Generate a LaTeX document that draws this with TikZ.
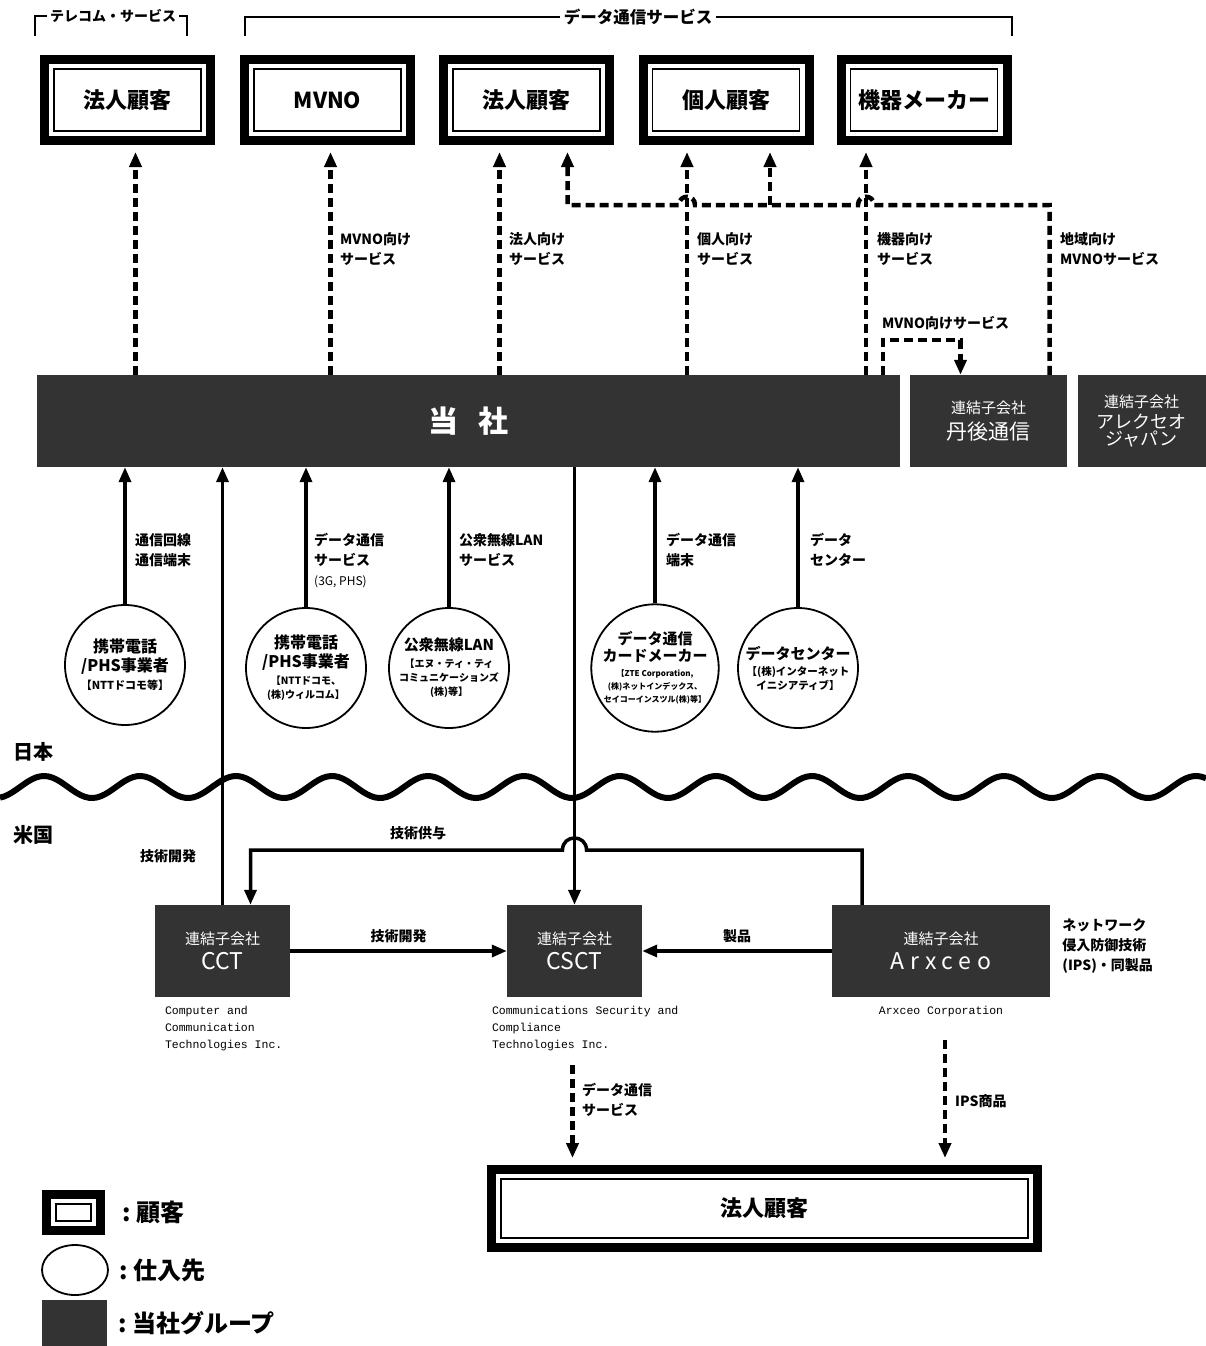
\documentclass[tikz,border=0pt]{standalone}
\usepackage{fontspec}
\setmainfont{Noto Sans CJK JP}
\setmonofont{Liberation Mono}
\usetikzlibrary{arrows.meta,calc,positioning,shapes.geometric}
\newcommand\fsz[2]{\fontsize{#1}{#2}\selectfont}

\begin{document}
\begin{tikzpicture}[x=1pt,y=-1pt,>={Triangle[length=15pt,width=12pt]},
  cust/.style={draw,line width=9pt,inner sep=0,minimum width=166,minimum height=81,
    font=\fsz{22}{26}\bfseries,
    path picture={\draw[line width=1.6pt]
      ([shift={(9.5pt,-9.5pt)}]path picture bounding box.north west) rectangle
      ([shift={(-9.5pt,9.5pt)}]path picture bounding box.south east);}},
  grp/.style={fill=black!80,text=white,inner sep=0,align=center},
  sup/.style={circle,draw,line width=1.8pt,minimum size=120,inner sep=0,align=center,
    font=\fsz{16}{19}\bfseries},
  flow/.style={->,line width=3.5pt},
  dflow/.style={->,line width=4.5pt,dash pattern=on 9pt off 5pt},
  lbl/.style={anchor=north west,inner sep=0,align=left,font=\fsz{14}{20}\bfseries},
  midlbl/.style={above=6pt,inner sep=0,font=\fsz{14}{16}\bfseries},
  mono/.style={anchor=north west,inner sep=0,align=left,font=\ttfamily\fsz{11.5}{17}}]
\useasboundingbox (0,0) rectangle (1206,1346);
% ---------- customers (top) ----------
\node[font=\fsz{14}{16}\bfseries,inner sep=3pt] (tel) at (113,16) {テレコム・サービス};
\draw[line width=2pt] (35,36) |- (tel.west) (tel.east) -| (187,36);
\node[font=\fsz{16.5}{18}\bfseries,inner sep=4pt] (dat) at (638,17) {データ通信サービス};
\draw[line width=2pt] (245,36) |- (dat.west) (dat.east) -| (1012,36);
\node[cust] (k1) at (127.5,100) {法人顧客};
\node[cust] (k2) at (327.5,100) {MVNO};
\node[cust] (k3) at (526.5,100) {法人顧客};
\node[cust] (k4) at (726,100) {個人顧客};
\node[cust] (k5) at (924,100) {機器メーカー};
% ---------- our group ----------
\node[grp,minimum width=863,minimum height=92,font=\fsz{30}{34}\bfseries] (tosha) at (468.5,421) {当\hspace{0.7em}社};
\node[grp,minimum width=157,minimum height=92] (tango) at (988.5,421)
  {\fsz{15}{18}連結子会社\\[6pt]\fsz{21}{24}丹後通信};
\node[grp,minimum width=128,minimum height=92] (alex) at (1141.5,421)
  {\fsz{15}{18}連結子会社\\[4pt]\fsz{18}{20}アレクセオ\\\fsz{18}{20}ジャパン};
% ---------- services to customers ----------
\foreach \b/\dx/\a in {k1/8/a1,k2/3/a2,k3/-27/a3,k4/-39/a4,k5/-58/a5}
  \path (\b.south) ++(\dx,7) coordinate (\a);
\foreach \a in {a1,a2,a3,a4,a5}
  \draw[dflow] (\a |- tosha.north) -- (\a);
\path (k3.south) ++(41,7) coordinate (b3);
\path (k4.south) ++(44,7) coordinate (b4);
\path (tango.north) ++(61,0) coordinate (tg);
\coordinate (hz) at (0,205);
\draw[dflow] (tg) -- (tg |- hz) -- ($(a5 |- hz)+(8,0)$) .. controls +(0,-11) and +(0,-11) .. ($(a5 |- hz)+(-8,0)$)
  -- ($(a4 |- hz)+(8,0)$) .. controls +(0,-11) and +(0,-11) .. ($(a4 |- hz)+(-8,0)$) -- (b3 |- hz) -- (b3);
\draw[dflow] (b4 |- hz) -- (b4);
\path (tosha.north east) ++(-17,0) coordinate (m1);
\path (tango.north) ++(-28,0) coordinate (m2);
\draw[dflow] (m1) -- ++(0,-35) -| (m2);
\node[lbl] (l2) at (340,232) {MVNO向け\\サービス};
\node[lbl] (l3) at (509,232) {法人向け\\サービス};
\node[lbl] (l4) at (697,232) {個人向け\\サービス};
\node[lbl] (l5) at (877,232) {機器向け\\サービス};
\node[lbl] (l6) at (1060,232) {地域向け\\MVNOサービス};
\node[lbl] (l7) at (882,316) {MVNO向けサービス};
% ---------- suppliers ----------
\node[sup] (s1) at (125,665)
  {携帯電話\\/PHS事業者\\[-1pt]\fsz{11}{14}【NTTドコモ等】};
\node[sup] (s2) at (306,668)
  {携帯電話\\/PHS事業者\\[-2pt]\fsz{10}{13}【NTTドコモ、\\[-5pt]\fsz{10}{13}(株)ウィルコム】};
\node[sup] (s3) at (449,668)
  {\fsz{15}{19}公衆無線LAN\\[-2pt]\fsz{10}{13}【エヌ・ティ・ティ\\[-5pt]\fsz{10}{13}コミュニケーションズ\\[-5pt]\fsz{10}{13}(株)等】};
\node[sup] (s4) at (655,668)
  {\fsz{15}{17}データ通信\\[-2pt]\fsz{15}{17}カードメーカー\\[-4pt]\fsz{8}{11}【ZTE Corporation,\\[-6pt]\fsz{8}{11}(株)ネットインデックス、\\[-6pt]\fsz{8}{11}セイコーインスツル(株)等】};
\node[sup] (s5) at (798,668)
  {\fsz{15}{19}データセンター\\[-3pt]\fsz{10.5}{13}【(株)インターネット\\[-5pt]\fsz{10.5}{13}イニシアティブ】};
\foreach \s in {s1,s2,s3,s4,s5}
  \draw[flow] (\s.north) -- (\s.north |- tosha.south);
\node[lbl] (u1) at (135,533) {通信回線\\通信端末};
\node[lbl] (u2) at (314,533) {データ通信\\サービス\\\fsz{12}{18}\mdseries(3G, PHS)};
\node[lbl] (u3) at (459,533) {公衆無線LAN\\サービス};
\node[lbl] (u4) at (666,533) {データ通信\\端末};
\node[lbl] (u5) at (810,533) {データ\\センター};
% ---------- Japan / US ----------
\node[anchor=west,inner sep=0,font=\fsz{20}{24}\bfseries] (jp) at (13,752) {日本};
\node[anchor=west,inner sep=0,font=\fsz{20}{24}\bfseries] (us) at (13,835) {米国};
\draw[line width=6pt] plot[domain=0:1206,samples=300] (\x,{787-11*sin(3.75*(\x-20))});
% ---------- US subsidiaries ----------
\node[grp,minimum width=135,minimum height=92] (cct) at (222.5,951)
  {\fsz{15}{18}連結子会社\\[6pt]\fsz{23}{26}CCT};
\node[grp,minimum width=135,minimum height=92] (csct) at (574.5,951)
  {\fsz{15}{18}連結子会社\\[6pt]\fsz{23}{26}CSCT};
\node[grp,minimum width=218,minimum height=92] (arx) at (941,951)
  {\fsz{15}{18}連結子会社\\[6pt]\fsz{23}{26}\addfontfeature{LetterSpace=25}Arxceo};
\draw[flow] (cct.north) -- (cct.north |- tosha.south);
\node[lbl] (t1) at (140,849) {技術開発};
\draw[flow] (csct.north |- tosha.south) -- (csct.north);
\path (arx.north) ++(-79,0) coordinate (g1);
\path (cct.north) ++(28,0) coordinate (g2);
\coordinate (gy) at (0,850);
\draw[flow] (g1) -- (g1 |- gy) -- ($(csct.north |- gy)+(12,0)$) .. controls +(0,-16) and +(0,-16) .. ($(csct.north |- gy)+(-12,0)$)
  -- (g2 |- gy) -- (g2);
\node[inner sep=0,font=\fsz{14}{16}\bfseries] (t2) at (418,833) {技術供与};
\draw[flow] (cct.east) -- node[midlbl] (t3) {技術開発} (csct.west);
\draw[flow] (arx.west) -- node[midlbl] (t4) {製品} (csct.east);
\node[mono] (cctn) at ([shift={(10pt,-9pt)}]cct.south west) {Computer and\\Communication\\Technologies Inc.};
\node[mono] (csctn) at ([shift={(-15pt,-9pt)}]csct.south west) {Communications Security and\\Compliance\\Technologies Inc.};
\node[mono,anchor=north] (arxn) at ([yshift=-9pt]arx.south) {Arxceo Corporation};
\node[lbl] (arxd) at ([shift={(12pt,-14pt)}]arx.north east) {ネットワーク\\侵入防御技術\\(IPS)・同製品};
% ---------- customers (bottom) ----------
\node[cust,minimum width=546,minimum height=78] (bot) at (764.5,1208.5) {法人顧客};
\path (csct.south) ++(-2,68) coordinate (d1);
\path (arx.south) ++(4,43) coordinate (d2);
\draw[dflow,shorten >=7pt] (d1) -- (d1 |- bot.north);
\draw[dflow,shorten >=7pt] (d2) -- (d2 |- bot.north);
\node[lbl] (v1) at (582,1083) {データ通信\\サービス};
\node[lbl] (v2) at (955,1094) {IPS商品};
% ---------- legend ----------
\node[cust,minimum width=54,minimum height=36] (lg1) at (73.5,1212.5) {};
\node[ellipse,draw,line width=1.8pt,minimum width=66,minimum height=50,inner sep=0] (lg2) at (75,1270) {};
\node[grp,minimum width=65,minimum height=46] (lg3) at (74.5,1323) {};
\node[right=17pt of lg1,inner sep=0,font=\fsz{24}{28}\bfseries] (lt1) {:\ 顧客};
\node[right=10pt of lg2,inner sep=0,font=\fsz{24}{28}\bfseries] (lt2) {:\ 仕入先};
\node[right=11pt of lg3,inner sep=0,font=\fsz{24}{28}\bfseries] (lt3) {:\ 当社グループ};
\end{tikzpicture}
\end{document}
